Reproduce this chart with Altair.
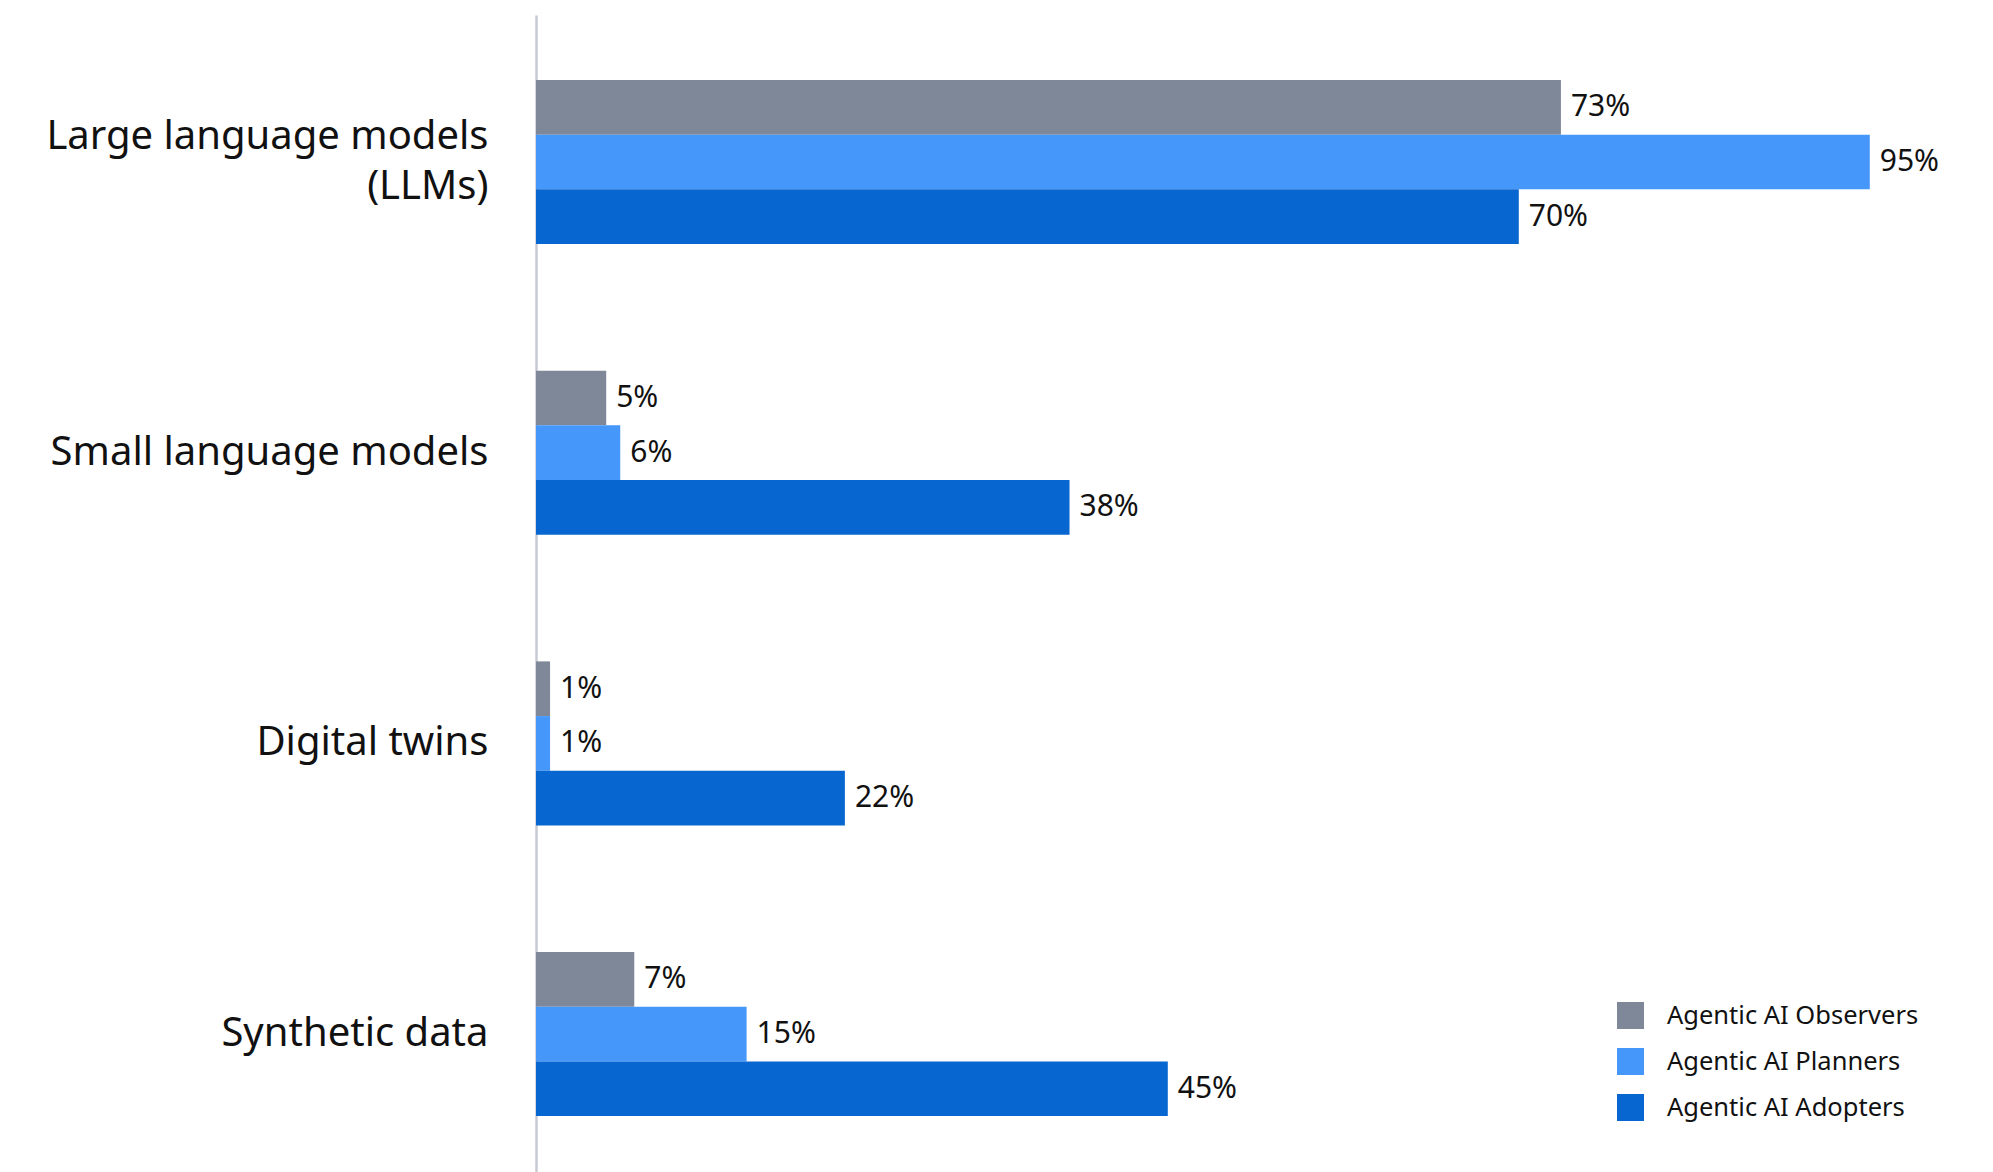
import altair as alt
import pandas as pd

categories = ["Large language models|(LLMs)", "Small language models", "Digital twins", "Synthetic data"]
series = ["Agentic AI Observers", "Agentic AI Planners", "Agentic AI Adopters"]
observers = [73, 5, 1, 7]
planners = [95, 6, 1, 15]
adopters = [70, 38, 22, 45]
colors = ["#7f8899", "#4597f9", "#0866d0"]

FONT = "Noto Sans"

rows = []
for i, c in enumerate(categories):
    for s, vals in zip(series, [observers, planners, adopters]):
        rows.append({"category": c, "series": s, "value": vals[i], "label": f"{vals[i]}%"})
df = pd.DataFrame(rows)

base = alt.Chart(df).encode(
    y=alt.Y(
        "category:N",
        sort=categories,
        scale=alt.Scale(paddingInner=0.4358, paddingOuter=0.2079, align=0.5377),
        axis=alt.Axis(
            title=None,
            domain=True,
            domainColor="#c6cad3",
            domainWidth=2.5,
            ticks=False,
            grid=False,
            labelFontSize=40,
            labelFont=FONT,
            labelColor="#111111",
            labelPadding=48,
            labelLimit=800,
            labelLineHeight=50,
            labelOffset=alt.ExprRef(expr="indexof(datum.label, '|') >= 0 ? -25 : 0"),
            labelExpr="split(datum.label, '|')",
        ),
    ),
    yOffset=alt.YOffset("series:N", sort=series, scale=alt.Scale(paddingInner=0, paddingOuter=0)),
    x=alt.X("value:Q", scale=alt.Scale(domain=[0, 100]), axis=None),
)

bars = base.mark_bar().encode(
    color=alt.Color(
        "series:N",
        sort=series,
        scale=alt.Scale(domain=series, range=colors),
        legend=alt.Legend(
            orient="none",
            legendX=1081,
            legendY=987,
            title=None,
            symbolType="square",
            symbolSize=729,
            symbolStrokeWidth=0,
            symbolOpacity=1,
            labelFontSize=25.5,
            labelFont=FONT,
            labelColor="#111111",
            labelLimit=600,
            rowPadding=19,
            labelOffset=23,
        ),
    )
)

texts = base.mark_text(
    align="left", baseline="middle", dx=10, fontSize=30, font=FONT, color="#111111"
).encode(text="label:N")

chart = (
    alt.layer(bars, texts)
    .properties(
        width=1404,
        height=1157,
        background="white",
        autosize=alt.AutoSizeParams(type="none"),
        padding={"left": 536, "top": 15, "right": 0, "bottom": 0},
    )
    .configure_view(stroke="transparent", strokeWidth=0)
)

chart.save("out.html", embed_options={"renderer": "svg", "actions": False})
